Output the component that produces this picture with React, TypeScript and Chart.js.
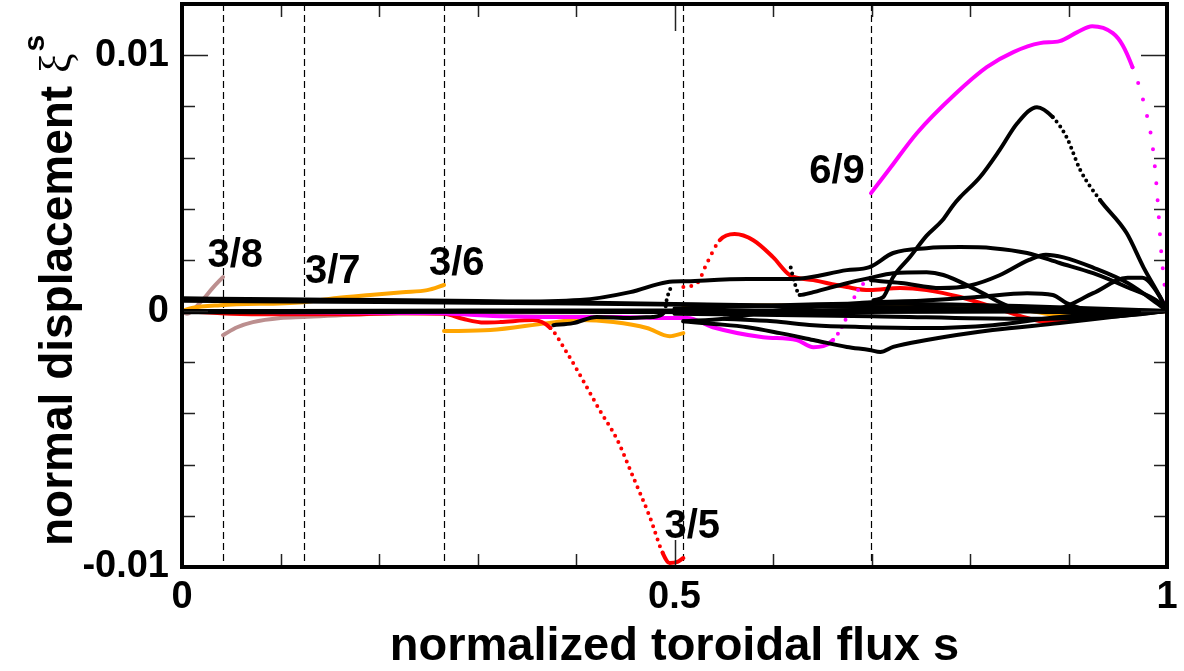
import React, { useEffect, useRef } from "react";
import { Chart, registerables } from "chart.js";
Chart.register(...registerables);

type P = [number, number];

// ---------- axes ----------
const xTickValues = [0, 0.5, 1];
const yTickValues = [-0.01, 0, 0.01];
const xMin = 0, xMax = 1, yMin = -0.01, yMax = 0.012;
const xMinorStep = 0.1;
const yMinorStep = 0.002;
const xTitle = "normalized toroidal flux s";
const yTitleMain = "normal displacement ";
const yTitleSymbol = "ξ";
const yTitleSup = "s";

// rational surfaces (dashed lines) and their labels
const surfaceS = [0.0416, 0.124, 0.266, 0.509, 0.6995];
const surfaceLabels = ["3/8", "3/7", "3/6", "3/5", "6/9"];
const labelS = [0.054, 0.153, 0.279, 0.518, 0.665];
const labelV = [0.00172, 0.00109, 0.00141, -0.00887, 0.005];

// ---------- series (s, xi^s) ----------
const red35a: P[] = [
  [0, 0], [0.05, -0.0001], [0.1, -0.00012], [0.17, -0.00012], [0.22, -0.00008], [0.266, -0.0001],
  [0.285, -0.0003], [0.307, -0.00045], [0.323, -0.00043], [0.356, -0.00035], [0.374, -0.00066],
  [0.391, -0.00164], [0.407, -0.0027], [0.424, -0.00387], [0.442, -0.00504], [0.458, -0.00648],
  [0.475, -0.00805], [0.488, -0.00945], [0.495, -0.00984], [0.503, -0.0098], [0.509, -0.00965],
];
const red35b: P[] = [
  [0.509, 0.00094], [0.523, 0.00109], [0.533, 0.00188], [0.546, 0.00277], [0.561, 0.00301],
  [0.58, 0.00277], [0.6, 0.00211], [0.617, 0.00141], [0.641, 0.00121], [0.675, 0.00094],
  [0.698, 0.00082], [0.729, 0.0009], [0.756, 0.00082], [0.79, 0.00055], [0.823, 0.00016],
  [0.858, -0.00027], [0.878, -0.00043], [0.932, -0.0002], [1, 0],
];
const magA: P[] = [[0, 0], [0.1, -0.00005], [0.2, -0.00006], [0.266, -0.00008]];
const magB: P[] = [
  [0.266, -0.00008], [0.323, -0.0002], [0.384, -0.00023], [0.445, -0.00023], [0.492, -0.00027],
  [0.513, -0.00027], [0.539, -0.00063], [0.59, -0.00102], [0.624, -0.00113], [0.641, -0.00141],
  [0.661, -0.00113], [0.675, -0.00023], [0.685, 0.00074], [0.698, 0.00129],
];
const mag69: P[] = [
  [0.6995, 0.00461], [0.719, 0.00559], [0.746, 0.00695], [0.785, 0.00848], [0.817, 0.00953],
  [0.844, 0.01012], [0.871, 0.01047], [0.891, 0.01055], [0.909, 0.0109], [0.924, 0.01113],
  [0.945, 0.01086], [0.955, 0.01039], [0.965, 0.00953], [0.973, 0.00863], [0.98, 0.00758],
  [0.985, 0.00656], [0.988, 0.00551], [0.991, 0.00406], [0.994, 0.00238], [0.998, 0.00082], [1, 0],
];
const orange37: P[] = [
  [0, 0], [0.01, 0.00012], [0.039, 0.00023], [0.123, 0.00035], [0.157, 0.00051], [0.191, 0.00063],
  [0.224, 0.00074], [0.249, 0.00082], [0.266, 0.00102],
];
const orangeB: P[] = [
  [0.266, -0.00078], [0.313, -0.00074], [0.371, -0.00047], [0.404, -0.00035], [0.438, -0.00043],
  [0.472, -0.00066], [0.495, -0.00098], [0.509, -0.00086],
];
const orangeC: P[] = [
  [0.509, 0.0002], [0.6, 0.00022], [0.7, 0.0002], [0.8, 0.00015], [0.86, 0], [0.9, -0.0002],
  [0.95, -0.00015], [1, 0],
];
const rosy38a: P[] = [[0, 0], [0.005, -0.0001], [0.02, 0.0004], [0.031, 0.0009], [0.0416, 0.00133]];
const rosy38b: P[] = [
  [0.0416, -0.00094], [0.056, -0.00063], [0.072, -0.00043], [0.1, -0.00027], [0.123, -0.00023],
  [0.2, -0.0001], [0.4, -0.00005], [0.7, 0], [1, 0],
];
const blackBandTop: P[] = [
  [0, 0.0005], [0.1, 0.00046], [0.2, 0.00043], [0.3, 0.00039], [0.4, 0.00034], [0.5, 0.00028],
  [0.6, 0.00022], [0.7, 0.00016], [0.8, 0.0001], [0.9, 0.00005], [1, 0],
];
const blackBandTop2: P[] = [
  [0, 0.0004], [0.2, 0.00036], [0.4, 0.0003], [0.6, 0.0002], [0.8, 0.0001], [1, 0],
];
const blackBandZero: P[] = [[0, 0], [0.3, 0.00002], [0.6, 0.00002], [1, 0]];
const blackBandZero2: P[] = [[0, -0.00005], [0.3, -0.00003], [0.6, -0.00005], [1, 0]];
const blackBandMid: P[] = [[0.5, 0.0001], [0.7, 0.0003], [0.85, 0.0002], [1, 0]];
const blackBandLow: P[] = [[0.5, -0.0001], [0.7, -0.0002], [0.85, -0.0003], [0.95, -0.0002], [1, 0]];
const blackC1: P[] = [
  [0.303, 0.00035], [0.404, 0.00043], [0.455, 0.00074], [0.492, 0.00113], [0.513, 0.00117],
  [0.574, 0.00125], [0.62, 0.00125], [0.675, 0.0016], [0.698, 0.00172], [0.722, 0.00227],
  [0.756, 0.00246], [0.79, 0.0025], [0.823, 0.00246], [0.858, 0.00227], [0.891, 0.00188],
  [0.925, 0.00148], [0.959, 0.00094], [0.993, 0.00031], [1, 0],
];
const blackC2: P[] = [
  [0.618, 0.0017], [0.622, 0.0011], [0.627, 0.00063], [0.641, 0.00074], [0.675, 0.00109],
  [0.698, 0.00129], [0.722, 0.00148], [0.756, 0.00152], [0.773, 0.00141], [0.807, 0.00082],
  [0.841, 0.00016], [0.891, -0.00004], [1, 0],
];
const blackC3: P[] = [
  [0.702, 0.00043], [0.712, 0.00055], [0.722, 0.00133], [0.739, 0.00211], [0.756, 0.00295],
  [0.772, 0.00355], [0.783, 0.00414], [0.79, 0.00445], [0.81, 0.00523], [0.83, 0.00629],
  [0.848, 0.00734], [0.868, 0.00797], [0.884, 0.00758], [0.898, 0.0068], [0.912, 0.00551],
  [0.932, 0.00434], [0.959, 0.00305], [0.976, 0.00172], [0.993, 0.00055], [1, 0],
];
const blackC4: P[] = [
  [0.6995, 0.0012], [0.73, 0.0011], [0.77, 0.0009], [0.8, 0.001], [0.83, 0.0014], [0.86, 0.002],
  [0.877, 0.0022], [0.895, 0.0021], [0.925, 0.0017], [0.96, 0.0011], [0.99, 0.0003], [1, 0],
];
const blackC5: P[] = [
  [0.509, -0.0004], [0.55, -0.0003], [0.6, 0], [0.65, 0.0002], [0.7, 0.00035], [0.75, 0.0004],
  [0.807, 0.00055], [0.858, 0.0007], [0.884, 0.00063], [0.898, 0.00031], [0.919, 0.00004],
  [0.94, -0.0001], [1, 0],
];
const blackC6: P[] = [
  [0.85, 0], [0.89, 0.0001], [0.925, 0.0007], [0.96, 0.0013], [0.975, 0.0013], [0.993, 0.00055], [1, 0],
];
const blackC7: P[] = [
  [0.509, -0.0004], [0.54, -0.0005], [0.574, -0.00063], [0.607, -0.00086], [0.641, -0.00113],
  [0.675, -0.0014], [0.698, -0.00152], [0.709, -0.0016], [0.722, -0.0014], [0.756, -0.00113],
  [0.823, -0.00074], [0.891, -0.00047], [0.959, -0.00016], [1, 0],
];
const blackC8: P[] = [
  [0.55, -0.0003], [0.6, -0.0004], [0.641, -0.00055], [0.688, -0.00062], [0.756, -0.00066],
  [0.823, -0.00055], [0.891, -0.00023], [0.95, -0.0001], [1, 0],
];
const blackC9: P[] = [
  [0.377, -0.00055], [0.397, -0.00047], [0.421, -0.00023], [0.455, -0.00027], [0.478, -0.00023],
  [0.49, -0.00004], [0.492, 0.00043], [0.497, 0.001],
];

// ---------- styling ----------
const FONT = "'Liberation Sans', Arial, Helvetica, sans-serif";
const BLACK = "#000000";
const RED = "#ff0000";
const MAGENTA = "#ff00ff";
const ORANGE = "#ffa500";
const ROSY = "#bc8f8f";

function mk(data: P[], color: string, dots: [number, number][] = [], gap = 8, width = 4) {
  return {
    data: data.map(([x, y]) => ({ x, y })),
    borderColor: color,
    backgroundColor: color,
    borderWidth: width,
    pointRadius: 0,
    pointHoverRadius: 0,
    fill: false,
    cubicInterpolationMode: "monotone" as const,
    borderCapStyle: "round" as const,
    borderJoinStyle: "round" as const,
    segment: {
      borderDash: (ctx: any) => {
        const a = ctx.p0.parsed.x, b = ctx.p1.parsed.x;
        return dots.some(([lo, hi]) => a >= lo - 1e-9 && b <= hi + 1e-9) ? [0, gap] : undefined;
      },
    },
  };
}

const decorPlugin = {
  id: "decor",
  beforeDatasetsDraw(chart: any) {
    const { ctx, chartArea: ca, scales } = chart;
    ctx.save();
    ctx.strokeStyle = "#000";
    ctx.lineWidth = 1.2;
    ctx.setLineDash([7, 4]);
    surfaceS.forEach((s) => {
      const x = Math.round(scales.x.getPixelForValue(s)) + 0.5;
      ctx.beginPath();
      ctx.moveTo(x, ca.top);
      ctx.lineTo(x, ca.bottom);
      ctx.stroke();
    });
    ctx.restore();
  },
  afterDatasetsDraw(chart: any) {
    const { ctx, chartArea: ca, scales } = chart;
    ctx.save();
    ctx.strokeStyle = "#222";
    ctx.lineWidth = 1.5;
    const ny = Math.round((yMax - yMin) / yMinorStep);
    for (let k = 0; k <= ny; k++) {
      const v = yMin + k * yMinorStep;
      const major = yTickValues.some((t) => Math.abs(t - v) < 1e-9);
      const len = major ? 26 : 13;
      const y = Math.round(scales.y.getPixelForValue(v)) + 0.5;
      ctx.beginPath();
      ctx.moveTo(ca.left, y); ctx.lineTo(ca.left + len, y);
      ctx.moveTo(ca.right, y); ctx.lineTo(ca.right - len, y);
      ctx.stroke();
    }
    const nx = Math.round((xMax - xMin) / xMinorStep);
    for (let k = 0; k <= nx; k++) {
      const v = xMin + k * xMinorStep;
      const major = xTickValues.some((t) => Math.abs(t - v) < 1e-9);
      const len = major ? 27 : 13;
      const x = Math.round(scales.x.getPixelForValue(v)) + 0.5;
      ctx.beginPath();
      ctx.moveTo(x, ca.bottom); ctx.lineTo(x, ca.bottom - len);
      ctx.moveTo(x, ca.top); ctx.lineTo(x, ca.top + len);
      ctx.stroke();
    }
    ctx.lineWidth = 4;
    ctx.strokeStyle = "#000";
    ctx.strokeRect(ca.left, ca.top, ca.right - ca.left, ca.bottom - ca.top);
    ctx.fillStyle = "#000";
    ctx.font = `bold 40px ${FONT}`;
    ctx.textAlign = "center";
    ctx.textBaseline = "alphabetic";
    surfaceLabels.forEach((t, i) => {
      ctx.fillText(t, scales.x.getPixelForValue(labelS[i]), scales.y.getPixelForValue(labelV[i]));
    });
    ctx.restore();
  },
  afterDraw(chart: any) {
    const { ctx, chartArea: ca } = chart;
    ctx.save();
    ctx.fillStyle = "#000";
    ctx.textBaseline = "alphabetic";
    ctx.textAlign = "center";
    ctx.font = `bold 47px ${FONT}`;
    ctx.fillText(xTitle, (ca.left + ca.right) / 2, 660);
    ctx.translate(72, 546);
    ctx.rotate(-Math.PI / 2);
    ctx.textAlign = "left";
    ctx.font = `bold 46px ${FONT}`;
    ctx.fillText(yTitleMain, 0, 0);
    const w = ctx.measureText(yTitleMain).width;
    ctx.font = `44px 'Liberation Serif', 'DejaVu Serif', serif`;
    ctx.fillText(yTitleSymbol, w, -2);
    const w2 = ctx.measureText(yTitleSymbol).width;
    ctx.font = `bold 30px ${FONT}`;
    ctx.fillText(yTitleSup, w + w2 + 2, -28);
    ctx.restore();
  },
};

export default function App() {
  const ref = useRef<HTMLCanvasElement | null>(null);
  useEffect(() => {
    if (!ref.current) return;
    const datasets: any[] = [
      mk(blackC1, BLACK),
      mk(blackC2, BLACK, [[0.617, 0.628]], 6),
      mk(blackC3, BLACK, [[0.883, 0.933]], 6),
      mk(blackC4, BLACK),
      mk(blackC5, BLACK),
      mk(blackC6, BLACK),
      mk(blackC7, BLACK),
      mk(blackC8, BLACK),
      mk(blackC9, BLACK, [[0.489, 0.5]], 6),
      mk(blackBandTop, BLACK),
      mk(blackBandTop2, BLACK),
      mk(blackBandZero, BLACK),
      mk(blackBandZero2, BLACK),
      mk(blackBandMid, BLACK),
      mk(blackBandLow, BLACK),
      mk(mag69, MAGENTA, [[0.96, 1.0]], 17),
      mk(magB, MAGENTA, [[0.66, 0.7]], 8),
      mk(magA, MAGENTA),
      mk(red35a, RED, [[0.373, 0.489]], 7),
      mk(red35b, RED, [[0.508, 0.547]], 8),
      mk(orange37, ORANGE),
      mk(orangeB, ORANGE),
      mk(orangeC, ORANGE),
      mk(rosy38a, ROSY),
      mk(rosy38b, ROSY),
    ];
    const tickFont = { family: FONT, size: 38, weight: "bold" as const };
    const chart = new Chart(ref.current, {
      type: "line",
      data: { datasets },
      options: {
        animation: false,
        responsive: false,
        maintainAspectRatio: false,
        devicePixelRatio: 1,
        layout: { padding: { top: 4, right: 17, left: 0, bottom: 0 } },
        plugins: { legend: { display: false }, tooltip: { enabled: false } },
        events: [],
        scales: {
          x: {
            type: "linear",
            min: xMin,
            max: xMax,
            afterBuildTicks: (s: any) => { s.ticks = xTickValues.map((value) => ({ value })); },
            afterFit: (s: any) => { s.height = 104; s.paddingLeft = 0; s.paddingRight = 0; },
            ticks: { font: tickFont, color: "#000", padding: 8, maxRotation: 0, autoSkip: false, callback: (v: any) => String(v) },
            grid: { display: false, drawTicks: false },
            border: { display: false },
          },
          y: {
            type: "linear",
            min: yMin,
            max: yMax,
            afterBuildTicks: (s: any) => { s.ticks = yTickValues.map((value) => ({ value })); },
            afterFit: (s: any) => { s.width = 182; s.paddingTop = 0; s.paddingBottom = 0; },
            ticks: { font: tickFont, color: "#000", padding: 13, autoSkip: false, callback: (v: any) => String(v) },
            grid: { display: false, drawTicks: false },
            border: { display: false },
          },
        },
      },
      plugins: [decorPlugin],
    });
    return () => chart.destroy();
  }, []);
  return (
    <div style={{ position: "absolute", left: 0, top: 0, width: 1184, height: 671, background: "#fff" }}>
      <canvas ref={ref} width={1184} height={671} style={{ width: 1184, height: 671, display: "block" }} />
    </div>
  );
}
